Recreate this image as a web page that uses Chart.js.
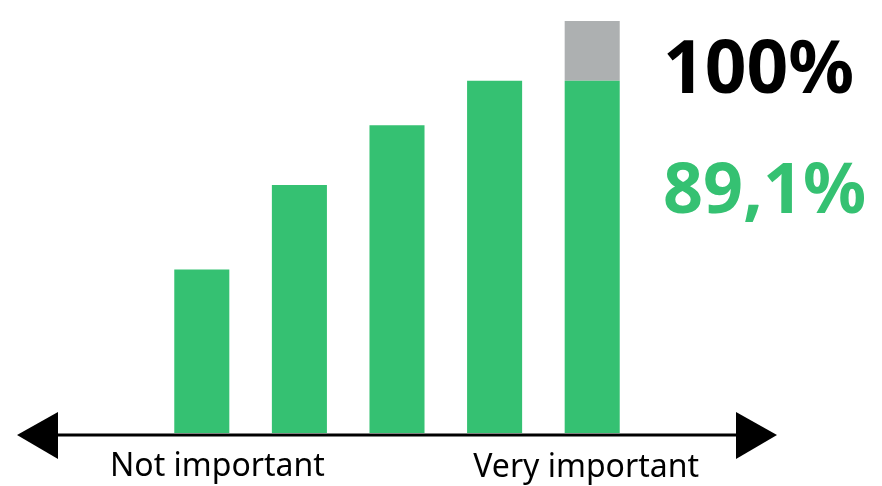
<!DOCTYPE html>
<html>
<head>
<meta charset="utf-8">
<script src="https://cdn.jsdelivr.net/npm/chart.js@4.4.0/dist/chart.umd.min.js"></script>
<style>
  html, body { margin: 0; padding: 0; background: #fff; }
  .chart-container { position: relative; width: 882px; height: 486px; }
</style>
</head>
<body>
<div class="chart-container">
  <canvas id="myChart"></canvas>
</div>
<script>
// Importance scale, 5 steps from "not important" to "very important"
const categories = ['1', '2', '3', '4', '5'];
const greenValues = [39.7, 60.2, 74.7, 85.5, 85.5];
const greyValues = [0, 0, 0, 0, 14.5];
const scaleLabels = ['Not important', 'Very important'];
const totalLabel = '100%';
const shareLabel = '89,1%';

const GREEN = '#35c172';
const GREY = '#adb0b1';

// Axis with arrow heads plus the text annotations
const annotations = {
  id: 'annotations',
  afterDraw(chart) {
    const { ctx, chartArea } = chart;
    const y = chartArea.bottom + 2;
    const x0 = chartArea.left - 95;
    const x1 = chartArea.right + 95;

    ctx.save();
    ctx.strokeStyle = '#000';
    ctx.fillStyle = '#000';
    ctx.lineWidth = 3;
    ctx.beginPath();
    ctx.moveTo(x0, y);
    ctx.lineTo(x1, y);
    ctx.stroke();

    // left arrow
    ctx.beginPath();
    ctx.moveTo(x0, y - 23);
    ctx.lineTo(x0 - 41, y);
    ctx.lineTo(x0, y + 24);
    ctx.closePath();
    ctx.fill();

    // right arrow
    ctx.beginPath();
    ctx.moveTo(x1, y - 23);
    ctx.lineTo(x1 + 41, y);
    ctx.lineTo(x1, y + 24);
    ctx.closePath();
    ctx.fill();

    // scale end labels
    ctx.font = '32px "Noto Sans"';
    ctx.textBaseline = 'alphabetic';
    ctx.textAlign = 'left';
    ctx.fillText(scaleLabels[0], chartArea.left - 43, y + 41);
    ctx.textAlign = 'right';
    ctx.fillText(scaleLabels[1], chartArea.right + 58, y + 42);

    // big percentages
    const tx = chartArea.right + 22;
    ctx.textAlign = 'left';
    ctx.font = 'bold 73px "Noto Sans"';
    ctx.fillStyle = '#000';
    ctx.fillText(totalLabel, tx, chartArea.top + 72);
    ctx.font = 'bold 70px "Noto Sans"';
    ctx.fillStyle = GREEN;
    ctx.fillText(shareLabel, tx, chartArea.top + 192);
    ctx.restore();
  }
};

const ctx = document.getElementById('myChart').getContext('2d');
new Chart(ctx, {
  type: 'bar',
  data: {
    labels: categories,
    datasets: [
      {
        data: greenValues,
        backgroundColor: GREEN,
        borderWidth: 0,
        barPercentage: 1,
        categoryPercentage: 0.564
      },
      {
        data: greyValues,
        backgroundColor: GREY,
        borderWidth: 0,
        barPercentage: 1,
        categoryPercentage: 0.564
      }
    ]
  },
  options: {
    responsive: true,
    maintainAspectRatio: false,
    animation: false,
    layout: {
      padding: { left: 153, right: 241, top: 21, bottom: 53 }
    },
    plugins: {
      legend: { display: false },
      tooltip: { enabled: false }
    },
    scales: {
      x: { stacked: true, display: false },
      y: { stacked: true, display: false, min: 0, max: 100 }
    }
  },
  plugins: [annotations]
});
</script>
</body>
</html>
